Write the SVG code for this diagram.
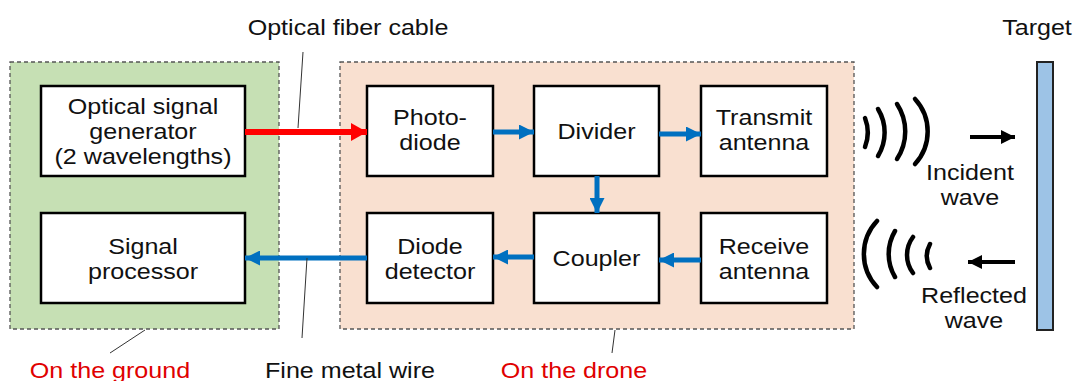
<svg xmlns="http://www.w3.org/2000/svg" width="1078" height="381" viewBox="0 0 1078 381">
  <style>
    text { font-family: "Liberation Sans", Arial, sans-serif; font-size: 22px; fill: #111; text-anchor: middle; }
    .red { fill: #e00000; }
    .zone { stroke: #555; stroke-width: 1.3; stroke-dasharray: 4 3; }
    .box { fill: #fff; stroke: #000; stroke-width: 2.5; }
    .leader { stroke: #333; stroke-width: 1; fill: none; }
    .blue { stroke: #0070c0; stroke-width: 5; fill: none; }
    .redline { stroke: #ff0000; stroke-width: 6; fill: none; }
    .blk { stroke: #000; stroke-width: 4; fill: none; }
    .wave { stroke: #000; stroke-width: 4.5; fill: none; stroke-linecap: round; }
  </style>
  <defs>
    <marker id="headBlue" markerUnits="userSpaceOnUse" markerWidth="15" markerHeight="15" refX="15" refY="7.5" orient="auto">
      <path d="M0,0 L15,7.5 L0,15 z" fill="#0070c0"/>
    </marker>
    <marker id="headRed" markerUnits="userSpaceOnUse" markerWidth="16" markerHeight="18" refX="16" refY="9" orient="auto">
      <path d="M0,0 L16,9 L0,18 z" fill="#ff0000"/>
    </marker>
    <marker id="headBlack" markerUnits="userSpaceOnUse" markerWidth="14" markerHeight="14" refX="14" refY="7" orient="auto">
      <path d="M0,0 L14,7 L0,14 z" fill="#000"/>
    </marker>
  </defs>

  <rect width="1078" height="381" fill="#fff"/>

  <!-- zones -->
  <g id="zone-ground">
    <rect class="zone" x="10" y="62" width="269" height="267" fill="#c6e0b4"/>
  </g>
  <g id="zone-drone">
    <rect class="zone" x="340" y="62" width="514" height="267" fill="#f9e0d0"/>
  </g>

  <!-- blocks (labels use a slightly widened face: translate to centre, scale x) -->
  <g id="optical-signal-generator">
    <rect class="box" x="41" y="86" width="204" height="90"/>
    <g transform="translate(143 0) scale(1.14 1)">
      <text y="114">Optical signal</text>
      <text y="139">generator</text>
      <text y="164">(2 wavelengths)</text>
    </g>
  </g>
  <g id="signal-processor">
    <rect class="box" x="41" y="213" width="204" height="90"/>
    <g transform="translate(143 0) scale(1.14 1)">
      <text y="254">Signal</text>
      <text y="279">processor</text>
    </g>
  </g>
  <g id="photodiode">
    <rect class="box" x="367" y="86" width="126" height="90"/>
    <g transform="translate(430 0) scale(1.14 1)">
      <text y="125">Photo-</text>
      <text y="150">diode</text>
    </g>
  </g>
  <g id="divider">
    <rect class="box" x="534" y="86" width="125" height="90"/>
    <g transform="translate(596.5 0) scale(1.14 1)">
      <text y="139">Divider</text>
    </g>
  </g>
  <g id="transmit-antenna">
    <rect class="box" x="701" y="86" width="126" height="90"/>
    <g transform="translate(764 0) scale(1.14 1)">
      <text y="125">Transmit</text>
      <text y="150">antenna</text>
    </g>
  </g>
  <g id="diode-detector">
    <rect class="box" x="367" y="213" width="126" height="90"/>
    <g transform="translate(430 0) scale(1.14 1)">
      <text y="254">Diode</text>
      <text y="279">detector</text>
    </g>
  </g>
  <g id="coupler">
    <rect class="box" x="534" y="213" width="125" height="90"/>
    <g transform="translate(596.5 0) scale(1.14 1)">
      <text y="266">Coupler</text>
    </g>
  </g>
  <g id="receive-antenna">
    <rect class="box" x="701" y="213" width="126" height="90"/>
    <g transform="translate(764 0) scale(1.14 1)">
      <text y="254">Receive</text>
      <text y="279">antenna</text>
    </g>
  </g>
  <g id="target">
    <rect x="1037" y="62" width="16" height="268" fill="#9dc3e6" stroke="#222" stroke-width="2"/>
    <g transform="translate(1037 0) scale(1.14 1)">
      <text y="35">Target</text>
    </g>
  </g>

  <!-- connectors -->
  <g id="connectors">
    <line class="redline" x1="245" y1="132" x2="367" y2="132" marker-end="url(#headRed)"/>
    <line class="blue" x1="493" y1="132" x2="534" y2="132" marker-end="url(#headBlue)"/>
    <line class="blue" x1="659" y1="134" x2="701" y2="134" marker-end="url(#headBlue)"/>
    <line class="blue" x1="597" y1="176" x2="597" y2="213" marker-end="url(#headBlue)"/>
    <line class="blue" x1="701" y1="260" x2="659" y2="260" marker-end="url(#headBlue)"/>
    <line class="blue" x1="534" y1="257" x2="493" y2="257" marker-end="url(#headBlue)"/>
    <line class="blue" x1="367" y1="258" x2="245" y2="258" marker-end="url(#headBlue)"/>
    <line class="blk" x1="970" y1="137" x2="1015" y2="137" marker-end="url(#headBlack)"/>
    <line class="blk" x1="1015" y1="262" x2="968" y2="262" marker-end="url(#headBlack)"/>
  </g>

  <!-- radio waves -->
  <g id="incident-wave">
    <path class="wave" d="M865 118 A40 40 0 0 1 865 147"/>
    <path class="wave" d="M878 109 A45 45 0 0 1 878 156"/>
    <path class="wave" d="M897 104 A50 50 0 0 1 897 159"/>
    <path class="wave" d="M915 99 A48 48 0 0 1 915 164"/>
    <g transform="translate(970 0) scale(1.14 1)">
      <text y="180">Incident</text>
      <text y="205">wave</text>
    </g>
  </g>
  <g id="reflected-wave">
    <path class="wave" d="M877 221 A48 48 0 0 0 877 287"/>
    <path class="wave" d="M895 231 A45 45 0 0 0 895 277"/>
    <path class="wave" d="M913 237 A30 30 0 0 0 913 273"/>
    <path class="wave" d="M930 244 A25 25 0 0 0 930 268"/>
    <g transform="translate(974 0) scale(1.14 1)">
      <text y="303">Reflected</text>
      <text y="328">wave</text>
    </g>
  </g>

  <!-- callouts -->
  <g id="labels">
    <line class="leader" x1="303" y1="52" x2="298" y2="128"/>
    <g transform="translate(348 0) scale(1.14 1)">
      <text y="35">Optical fiber cable</text>
    </g>
    <line class="leader" x1="307" y1="258" x2="302" y2="338"/>
    <g transform="translate(350 0) scale(1.14 1)">
      <text y="378">Fine metal wire</text>
    </g>
    <line class="leader" x1="145" y1="330" x2="110" y2="353"/>
    <g transform="translate(110 0) scale(1.14 1)">
      <text class="red" y="378">On the ground</text>
    </g>
    <line class="leader" x1="615" y1="330" x2="612" y2="353"/>
    <g transform="translate(574 0) scale(1.14 1)">
      <text class="red" y="378">On the drone</text>
    </g>
  </g>
</svg>
